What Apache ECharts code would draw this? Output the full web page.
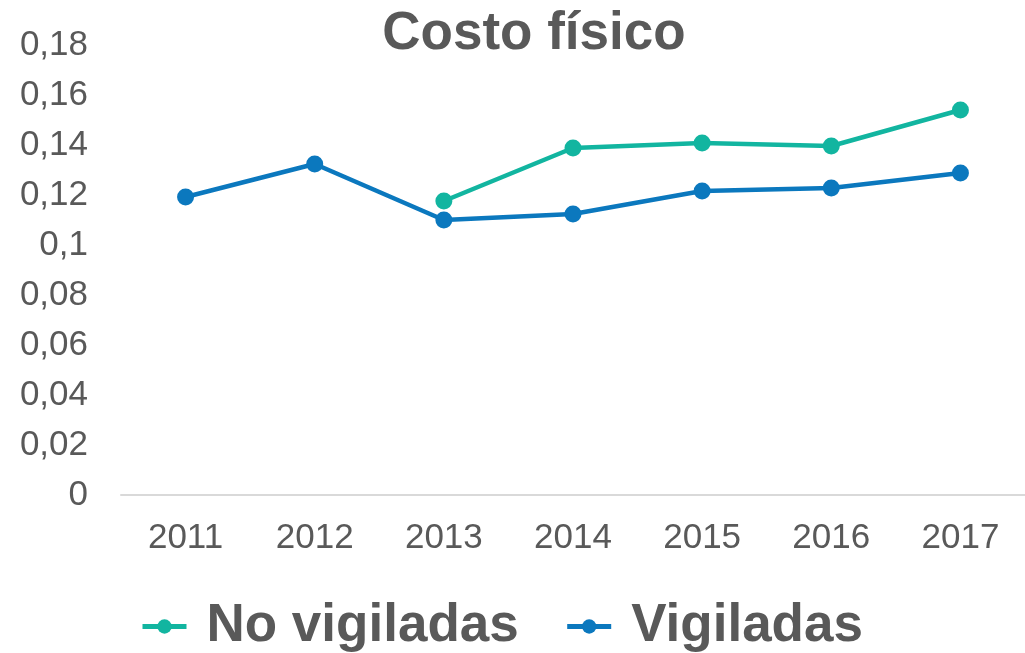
<!DOCTYPE html>
<html>
<head>
<meta charset="utf-8">
<script src="https://cdn.jsdelivr.net/npm/echarts@6/dist/echarts.min.js"></script>
<style>
	html, body { margin: 0; padding: 0; background: #fff; }
	#chart { width: 1025px; height: 653px; }
</style>
</head>
<body>
<div id="chart"></div>
<script>
const years = ['2011', '2012', '2013', '2014', '2015', '2016', '2017']
const noVigiladas = [null, null, 0.1176, 0.1388, 0.1408, 0.1396, 0.154]
const vigiladas = [0.1192, 0.1324, 0.110, 0.1124, 0.1216, 0.1228, 0.1288]

const textColor = '#595959'
const chart = echarts.init(document.getElementById('chart'))

const option = {
	animation: false,
	title: {
		text: 'Costo físico',
		left: 529,
		textAlign: 'center',
		top: 3,
		textStyle: { fontFamily: 'Liberation Sans', fontSize: 53, fontWeight: 'bold', color: textColor }
	},
	legend: {
		top: 595,
		left: 135,
		itemWidth: 44,
		itemHeight: 18,
		itemGap: 46,
		lineStyle: { width: 5 },
		textStyle: { fontFamily: 'Liberation Sans', fontSize: 53, fontWeight: 'bold', color: textColor, padding: [0, 0, 0, 15] },
		data: ['No vigiladas', 'Vigiladas']
	},
	grid: { left: 121, right: -6, top: 45, bottom: 158 },
	xAxis: {
		type: 'category',
		data: years,
		axisLine: { lineStyle: { color: '#d9d9d9', width: 2 } },
		axisTick: { show: false },
		axisLabel: { fontFamily: 'Liberation Sans', fontSize: 35, color: textColor, margin: 26 }
	},
	yAxis: {
		type: 'value',
		min: 0,
		max: 0.18,
		interval: 0.02,
		splitLine: { show: false },
		axisLine: { show: false },
		axisLabel: {
			fontFamily: 'Liberation Sans',
			fontSize: 35,
			color: textColor,
			margin: 33,
			formatter: v => String(Math.round(v * 100) / 100).replace('.', ',')
		}
	},
	series: [{
		name: 'No vigiladas',
		type: 'line',
		data: noVigiladas,
		symbol: 'circle',
		symbolSize: 17,
		color: '#12B5A0',
		lineStyle: { width: 4.5 }
	}, {
		name: 'Vigiladas',
		type: 'line',
		data: vigiladas,
		symbol: 'circle',
		symbolSize: 17,
		color: '#0B78BE',
		lineStyle: { width: 4.5 }
	}]
}
chart.setOption(option)
</script>
</body>
</html>
